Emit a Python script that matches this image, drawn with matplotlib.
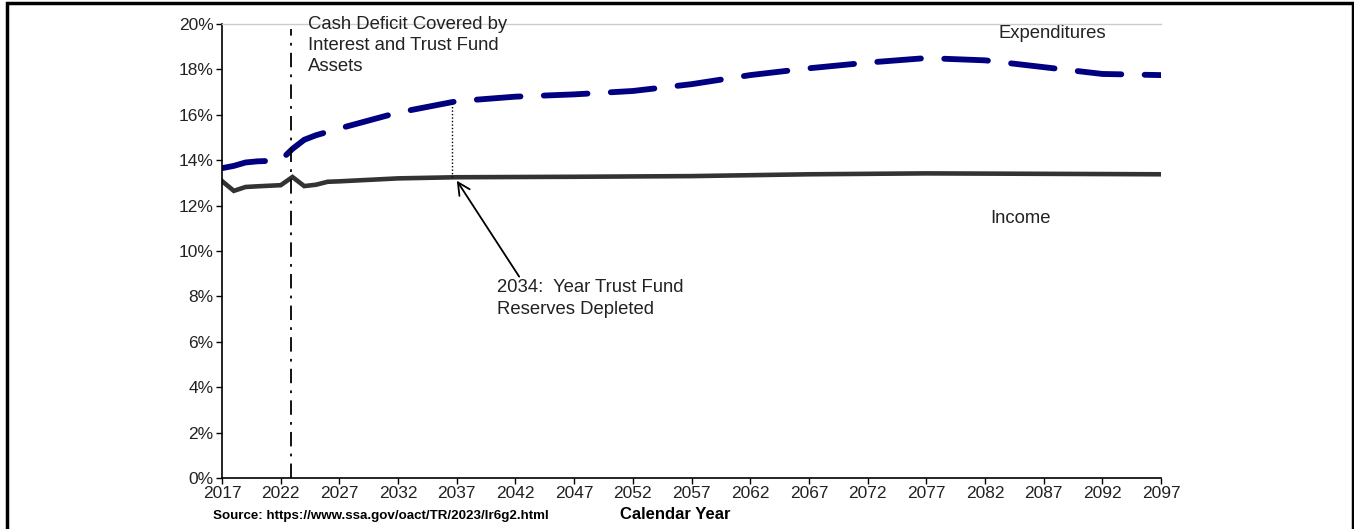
import matplotlib
matplotlib.use("Agg")
import matplotlib.pyplot as plt
from matplotlib.patches import Rectangle
from matplotlib.ticker import FuncFormatter

plt.rcParams['font.family'] = ['Liberation Sans', 'DejaVu Sans']

exp_years = [2017, 2018, 2019, 2020, 2021, 2022, 2023, 2024, 2025, 2027, 2032, 2037,
             2042, 2047, 2052, 2057, 2062, 2067, 2072, 2077, 2082, 2087, 2092, 2097]
exp_vals = [13.65, 13.75, 13.9, 13.95, 13.97, 14.0, 14.5, 14.9, 15.1, 15.4, 16.1, 16.6,
            16.8, 16.9, 17.05, 17.35, 17.75, 18.05, 18.3, 18.5, 18.4, 18.1, 17.8, 17.75]

inc_years = [2017, 2018, 2019, 2020, 2022, 2023, 2024, 2025, 2026, 2027, 2032, 2037,
             2047, 2057, 2067, 2077, 2087, 2097]
inc_vals = [13.08, 12.65, 12.82, 12.85, 12.9, 13.26, 12.86, 12.92, 13.05, 13.07, 13.2, 13.25,
            13.27, 13.3, 13.38, 13.42, 13.4, 13.38]

cash_deficit_year = 2022.9
depletion_line_year = 2036.6
x_ticks = list(range(2017, 2098, 5))
y_ticks = list(range(0, 21, 2))

fig = plt.figure(figsize=(13.54, 5.29), dpi=100)
ax = fig.add_axes([0.164, 0.0964, 0.6935, 0.8582])

ax.plot(exp_years, exp_vals, color="#000080", lw=4.2, dashes=(7.5, 4),
        solid_capstyle="round", dash_capstyle="round")
ax.plot(inc_years, inc_vals, color="#333333", lw=3.3, solid_joinstyle="miter")

ax.axvline(cash_deficit_year, ymin=0, ymax=0.99, color="black", lw=1.3, ls=(0, (8, 4, 1.5, 4)))
ax.plot([depletion_line_year, depletion_line_year], [16.5, 13.25], color="black",
        lw=1.0, ls=(0, (1, 1.5)))

ax.set_xlim(2017, 2097)
ax.set_ylim(0, 20)
ax.set_xticks(x_ticks)
ax.set_yticks(y_ticks)
ax.yaxis.set_major_formatter(FuncFormatter(lambda v, p: f"{v:.0f}%"))
ax.tick_params(axis="both", labelsize=12.5, length=4, width=1, colors="black",
               labelcolor="#222222", pad=2)
for s in ["left", "bottom"]:
    ax.spines[s].set_linewidth(1.2)
ax.spines["right"].set_visible(False)
ax.spines["top"].set_color("#cccccc")
ax.spines["top"].set_linewidth(1.0)

ax.text(2024.3, 20.35, "Cash Deficit Covered by\nInterest and Trust Fund\nAssets",
        fontsize=13.3, va="top", ha="left", color="#222222", linespacing=1.32)
ax.text(2087.7, 19.6, "Expenditures", fontsize=13.3, ha="center", va="center", color="#222222")
ax.text(2085.0, 11.45, "Income", fontsize=13.3, ha="center", va="center", color="#222222")
ax.annotate("2034:  Year Trust Fund\nReserves Depleted", xy=(depletion_line_year + 0.4, 13.1),
            xytext=(2040.4, 8.75), fontsize=13.3, ha="left", va="top", color="#222222",
            linespacing=1.32,
            arrowprops=dict(arrowstyle="->", color="black", lw=1.3,
                            shrinkA=0, shrinkB=0, mutation_scale=22,
                            relpos=(0.13, 1.0)))

fig.text(0.4985, 0.028, "Calendar Year", fontsize=12, fontweight="bold", ha="center", va="center")
fig.text(0.157, 0.025, "Source: https://www.ssa.gov/oact/TR/2023/lr6g2.html", fontsize=9.6,
         fontweight="bold", ha="left", va="center")

fig.patches.append(Rectangle((0.0055, -0.05), 0.9935, 1.045, transform=fig.transFigure,
                             fill=False, edgecolor="black", lw=2.5))

fig.savefig("out.png", dpi=100)
